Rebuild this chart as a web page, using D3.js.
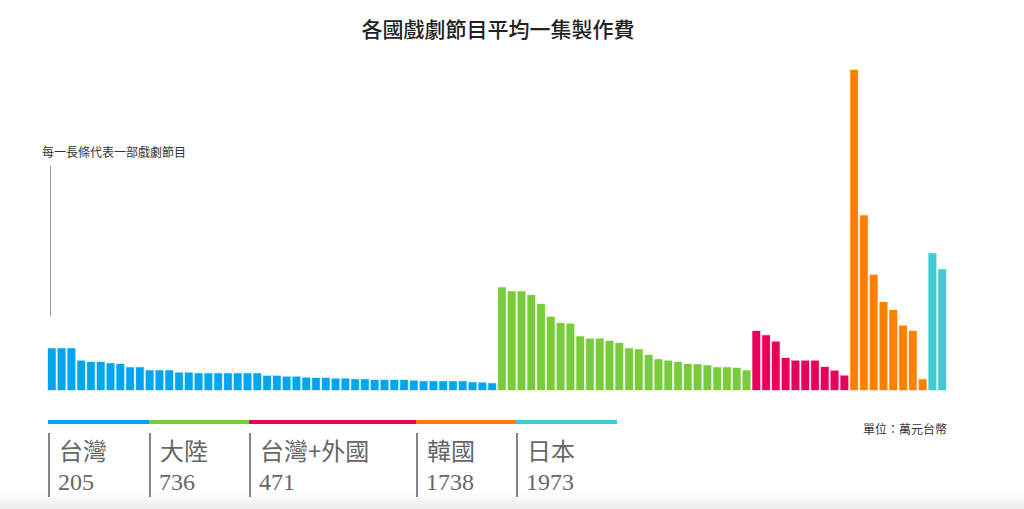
<!DOCTYPE html>
<meta charset="utf-8">
<style>
body { margin: 0; background: #fff; }
svg { display: block; }
.title { font: 500 21px "Noto Sans CJK TC", sans-serif; fill: #222; text-anchor: middle; }
.note { font: 12px "Noto Sans CJK TC", sans-serif; fill: #333; }
.gname { font: 24px "Noto Sans CJK TC", sans-serif; fill: #666; }
.gmean { font: 24px "Liberation Serif", serif; fill: #666; }
</style>
<script src="https://cdn.jsdelivr.net/npm/d3@7"></script>
<body>
<svg width="1024" height="509"></svg>
</body>
<script>

// cost per episode (萬元台幣), one value per drama
var taiwan = [638,638,638,448,428,428,408,398,347,347,301,301,301,265,265,255,255,255,255,255,255,255,
  216,216,203,203,188,184,184,173,173,164,164,153,153,153,153,142,133,133,133,133,133,118,112,103];
var china = [1571,1510,1510,1454,1316,1121,1025,1014,822,785,785,750,719,638,623,536,470,448,428,398,393,378,347,347,337,301];
var mixed = [903,837,739,490,448,448,448,352,295,219];
var korea = [4900,2673,1764,1346,1224,984,903,164];
var japan = [2092,1847];

var groupNames = ["台灣", "大陸", "台灣+外國", "韓國", "日本"];
var groupMeans = ["205", "736", "471", "1738", "1973"];
var groupColors = ["#00a6ed", "#78cc3c", "#e8005a", "#ff8000", "#3fcbd2"];
var groups = [taiwan, china, mixed, korea, japan];

// layout
var legendWidths = [101, 100, 167, 100, 101];

var svg = d3.select("svg");

var bg = svg.append("defs").append("linearGradient")
    .attr("id", "shade").attr("x1", 0).attr("x2", 0).attr("y1", 0).attr("y2", 1);
bg.append("stop").attr("offset", "0%").attr("stop-color", "#fff");
bg.append("stop").attr("offset", "100%").attr("stop-color", "#ececec");
svg.append("rect").attr("x", 0).attr("y", 492).attr("width", 1024).attr("height", 17)
    .attr("fill", "url(#shade)");

var bars = [];
groups.forEach(function(arr, gi) {
  arr.forEach(function(v) { bars.push({ group: gi, value: v }); });
});

var x = d3.scaleBand()
    .domain(d3.range(bars.length))
    .range([48, 946])
    .paddingInner(0.22)
    .paddingOuter(0);

var y = d3.scaleLinear()
    .domain([0, d3.max(bars, function(d) { return d.value; })])
    .range([390, 70]);

svg.append("text")
    .attr("class", "title")
    .attr("x", 498).attr("y", 37)
    .text("各國戲劇節目平均一集製作費");

svg.append("g").selectAll("rect")
    .data(bars)
  .enter().append("rect")
    .attr("x", function(d, i) { return x(i); })
    .attr("y", function(d) { return y(d.value); })
    .attr("width", x.bandwidth())
    .attr("height", function(d) { return y(0) - y(d.value); })
    .attr("fill", function(d) { return groupColors[d.group]; })
    .attr("stroke", function(d) { return groupColors[d.group]; })
    .attr("stroke-opacity", 0.35)
    .attr("stroke-width", 1);

// annotation
svg.append("text").attr("class", "note").attr("x", 42).attr("y", 157).text("每一長條代表一部戲劇節目");
svg.append("line").attr("x1", 50.5).attr("x2", 50.5).attr("y1", 166).attr("y2", 316)
    .attr("stroke", "#999").attr("stroke-width", 1);

svg.append("text").attr("class", "note").attr("x", 947).attr("y", 434)
    .attr("text-anchor", "end").text("單位：萬元台幣");

// legend
var lx = 48;
var legend = svg.append("g");
groupNames.forEach(function(name, i) {
  legend.append("rect").attr("x", lx).attr("y", 420).attr("width", legendWidths[i]).attr("height", 4)
      .attr("fill", groupColors[i]);
  legend.append("line").attr("x1", lx + 1).attr("x2", lx + 1).attr("y1", 433).attr("y2", 497)
      .attr("stroke", "#444").attr("stroke-width", 1.3);
  legend.append("text").attr("class", "gname").attr("x", lx + 11).attr("y", 460).text(name);
  legend.append("text").attr("class", "gmean").attr("x", lx + 10).attr("y", 490).text(groupMeans[i]);
  lx += legendWidths[i];
});

</script>
